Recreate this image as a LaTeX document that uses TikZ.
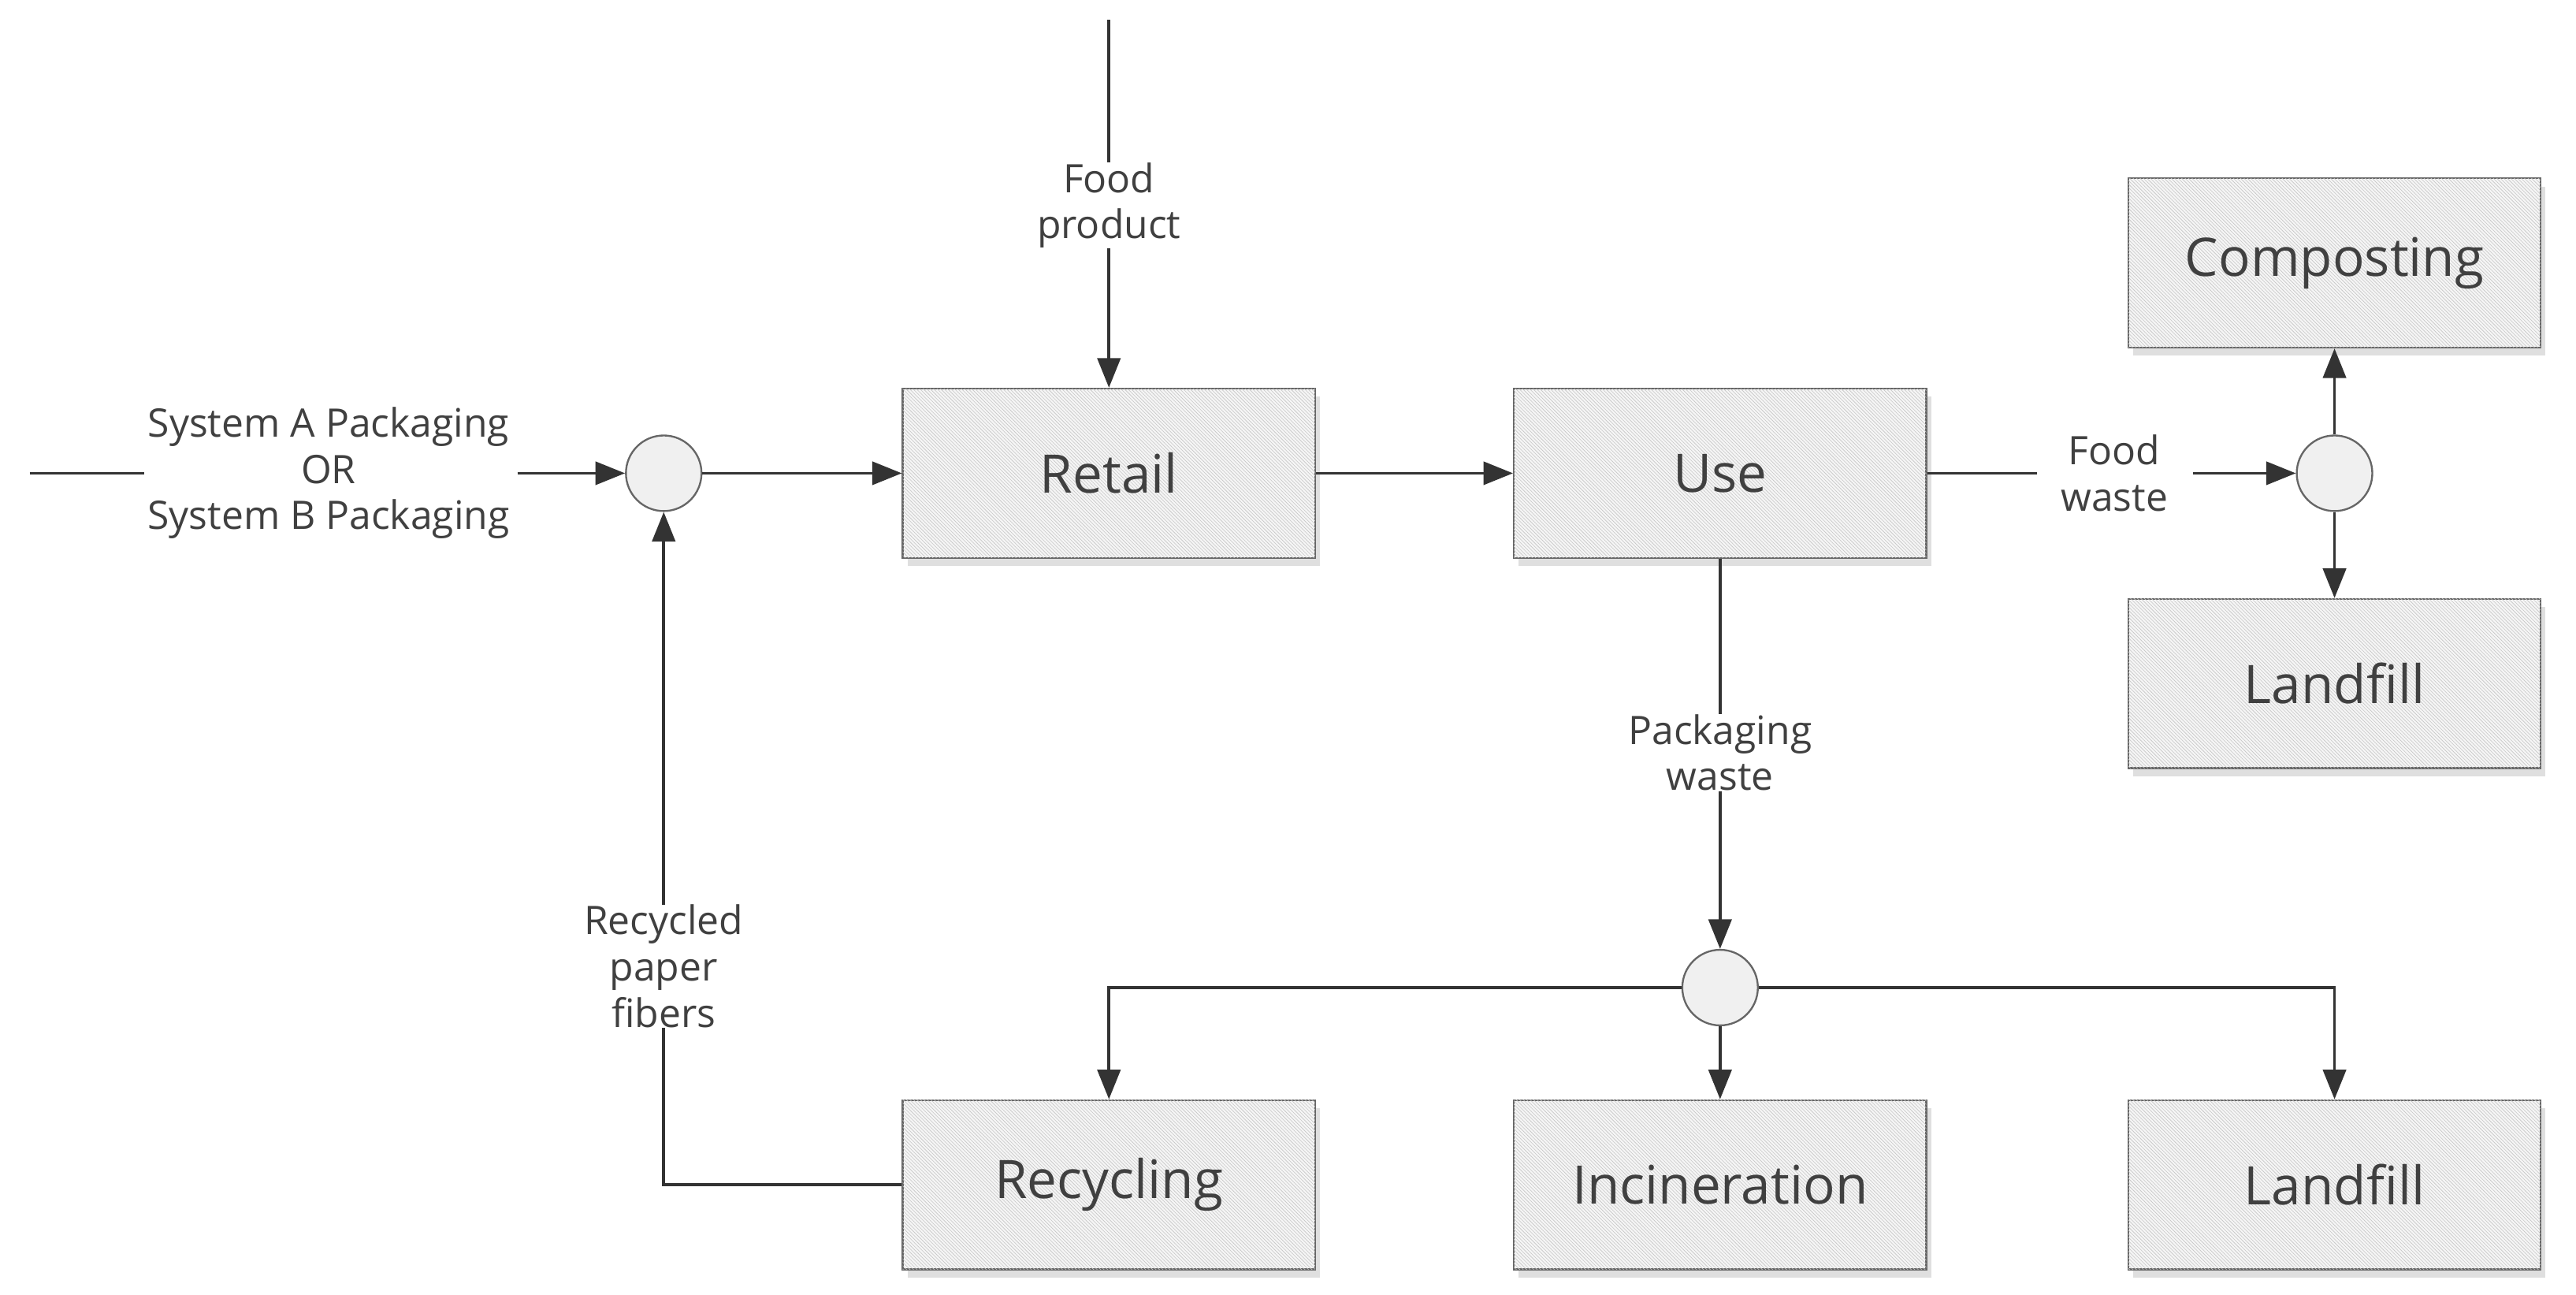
\documentclass[tikz,border=0pt]{standalone}
\usepackage{fontspec}
\setmainfont{Open Sans}
\usetikzlibrary{patterns,shadows,arrows.meta}
\definecolor{txt}{HTML}{404040}
\definecolor{ln}{HTML}{333333}
\begin{document}
\begin{tikzpicture}[x=0.05cm,y=-0.05cm,
 box/.style={draw=gray!80!black,line width=1.6pt,minimum width=12.55cm,minimum height=5.15cm,
   fill=gray!8,postaction={pattern=north west lines,pattern color=gray!45},
   drop shadow={shadow xshift=0.15cm,shadow yshift=-0.25cm,opacity=0.25},
   font=\fontsize{46}{50}\selectfont, text=txt},
 circ/.style={circle,draw=gray!80!black,line width=1.6pt,fill=gray!12,minimum size=2.3cm,inner sep=0pt},
 lab/.style={font=\fontsize{34}{40}\selectfont,text=txt,align=center,inner sep=0pt},
 ar/.style={draw=ln,line width=2.6pt,-{Triangle[length=0.9cm,width=0.7cm]}},
 li/.style={draw=ln,line width=2.6pt}]
\useasboundingbox (0,0) rectangle (1568,788);
\node[box] (retail) at (675,288) {Retail};
\node[box] (use) at (1047,288) {Use};
\node[box] (comp) at (1421,160) {Composting};
\node[box] (land1) at (1421,416) {Landfill};
\node[box] (recy) at (675,721) {Recycling};
\node[box] (inc) at (1047,721) {Incineration};
\node[box] (land2) at (1421,721) {Landfill};
\node[circ] (c1) at (404,288) {};
\node[circ] (c2) at (1421,288) {};
\node[circ] (c3) at (1047,601) {};
% food product
\coordinate (fp0) at (675,12);
\node[lab] (fp) at (675,125) {Food\\product};
\draw[li] (fp0) -- (fp.north);
\draw[ar] (fp.south) -- (retail.north);
% left input
\coordinate (s0) at (18,288);
\node[lab] (sys) at (200,288) {System A Packaging\\OR\\System B Packaging};
\draw[li] (s0) -- (88,288);
\draw[ar] (315,288) -- (c1.west);
\draw[ar] (c1.east) -- (retail.west);
\draw[ar] (retail.east) -- (use.west);
% food waste
\node[lab] (fw) at (1287,288) {Food\\waste};
\draw[li] (use.east) -- (1240,288);
\draw[ar] (1335,288) -- (c2.west);
\draw[ar] (c2.north) -- (comp.south);
\draw[ar] (c2.south) -- (land1.north);
% packaging waste
\node[lab] (pw) at (1047,458) {Packaging\\waste};
\draw[li] (use.south) -- (pw.north);
\draw[ar] (pw.south) -- (c3.north);
\draw[ar] (c3.west) -| (recy.north);
\draw[ar] (c3.east) -| (land2.north);
\draw[ar] (c3.south) -- (inc.north);
% recycled fibers
\node[lab] (rf) at (404,588) {Recycled\\paper\\fibers};
\draw[li] (recy.west) -| (rf.south);
\draw[ar] (rf.north) -- (c1.south);
\end{tikzpicture}
\end{document}
